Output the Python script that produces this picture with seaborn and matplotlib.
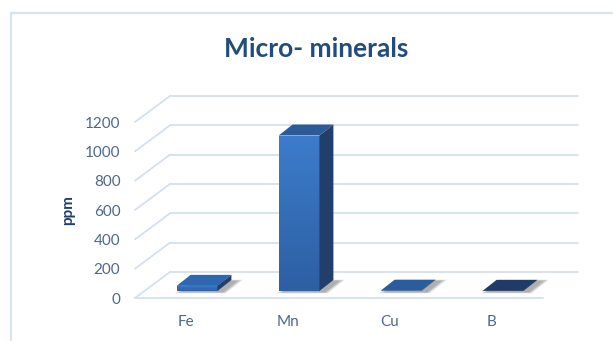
import numpy as np
import pandas as pd
import matplotlib
matplotlib.use("Agg")
import matplotlib.pyplot as plt
import matplotlib.transforms as mtransforms
from matplotlib.patches import Polygon
from matplotlib.colors import LinearSegmentedColormap
import seaborn as sns

# Data
minerals = ["Fe", "Mn", "Cu", "B"]
ppm = [35, 1060, 2, 1]
y_ticks = [0, 200, 400, 600, 800, 1000, 1200]

sns.set_style("white")
plt.rcParams["font.family"] = ["Lato", "DejaVu Sans"]

W, H, DPI = 613, 341, 100
fig = plt.figure(figsize=(W / DPI, H / DPI), dpi=DPI)

# front plane of the 3-D box (pixels, origin bottom-left)
X0, X1 = 135, 543
Y0, Y1 = H - 298, H - 122
ax = fig.add_axes([X0 / W, Y0 / H, (X1 - X0) / W, (Y1 - Y0) / H])

df = pd.DataFrame({"mineral": minerals, "ppm": ppm})
sns.barplot(data=df, x="mineral", y="ppm", width=0.4, color="#2E62A6",
            saturation=1, ax=ax, zorder=5)
ax.set_xlim(-0.5, 3.5)
ax.set_ylim(0, 1200)
ax.set_yticks(y_ticks)
ax.set_xlabel("")
ax.set_ylabel("")
ax.grid(False)
for s in ax.spines.values():
    s.set_visible(False)
ax.patch.set_alpha(0)
ax.tick_params(axis="y", length=0, pad=10.5, labelsize=11, labelcolor="#4E6790")
ax.tick_params(axis="x", length=0, pad=12, labelsize=11, labelcolor="#4E6790")

GRID = "#D5DFEF"
WALL = (35, 26)      # depth of the back wall
FRONT = (11, 7)      # front face of the bars sits behind the front plane
DEPTH = (14, 11)     # bar depth


def to_px(x, y):
    return ax.transData.transform((x, y))


def px_poly(points, **kw):
    pts = [(px / W, py / H) for px, py in points]
    poly = Polygon(pts, closed=True, transform=fig.transFigure,
                   clip_on=False, **kw)
    ax.add_artist(poly)
    return poly


def px_line(xs, ys, **kw):
    ax.add_artist(plt.Line2D([x / W for x in xs], [y / H for y in ys],
                             transform=fig.transFigure, clip_on=False, **kw))


# gridlines on the back wall plus the diagonals on the side wall
for v in y_ticks:
    fx, fy = to_px(-0.5, v)
    bx, by = fx + WALL[0], fy + WALL[1]
    px_line([fx, bx], [fy, by], color=GRID, lw=1.3, zorder=0.5)
    px_line([bx, bx + (X1 - X0)], [by, by], color=GRID, lw=1.3, zorder=0.5)
fx, fy = to_px(-0.5, 0)
px_line([fx, fx + (X1 - X0)], [fy, fy], color=GRID, lw=1.3, zorder=0.5)

# chart frame
px_line([11, 11], [0, H - 13], color="#D9E3F2", lw=1.6, zorder=0.5)
px_line([11, W], [H - 13, H - 13], color="#D9E3F2", lw=1.6, zorder=0.5)

shift = mtransforms.ScaledTranslation(FRONT[0] / DPI, FRONT[1] / DPI,
                                      fig.dpi_scale_trans)
front_cmap = LinearSegmentedColormap.from_list("front", ["#2D5FA2", "#3C7CCB"])
top_colors = ["#2F66B0", "#2C5B98", "#2B5C9C", "#1F3B66"]
side_color = "#223F6B"

for i, p in enumerate(ax.patches[:len(minerals)]):
    x0 = p.get_x()
    x1 = x0 + p.get_width()
    h = p.get_height()
    (ax0, ay0) = to_px(x0, 0) + np.array(FRONT)
    (ax1, ay1) = to_px(x1, h) + np.array(FRONT)

    # soft floor shadow
    foot = np.array([(ax0, ay0), (ax1, ay0),
                     (ax1 + DEPTH[0], ay0 + DEPTH[1]),
                     (ax0 + DEPTH[0], ay0 + DEPTH[1])])
    cx, cy = foot.mean(axis=0)
    for k in range(5):
        grow = 1.0 + 0.05 * (5 - k)
        pts = (foot - (cx, cy)) * grow + (cx + 5, cy - 1)
        px_poly(pts, facecolor="black", edgecolor="none", alpha=0.07, zorder=1)

    # front face with vertical gradient
    p.set_transform(ax.transData + shift)
    p.set_clip_on(False)
    p.set_edgecolor("none")
    p.set_zorder(5)
    if h > 0:
        im = ax.imshow(np.linspace(0, 1, 64).reshape(-1, 1),
                       extent=[x0, x1, 0, h], origin="lower", aspect="auto",
                       cmap=front_cmap, transform=ax.transData + shift,
                       zorder=5.5, interpolation="bilinear")
        im.set_clip_path(p)

    # top and side faces
    px_poly([(ax0, ay1), (ax1, ay1), (ax1 + DEPTH[0], ay1 + DEPTH[1]),
             (ax0 + DEPTH[0], ay1 + DEPTH[1])],
            facecolor=top_colors[i], edgecolor="none", zorder=6)
    px_poly([(ax1, ay0), (ax1 + DEPTH[0], ay0 + DEPTH[1]),
             (ax1 + DEPTH[0], ay1 + DEPTH[1]), (ax1, ay1)],
            facecolor=side_color, edgecolor="none", zorder=6)

ax.set_xlim(-0.5, 3.5)
ax.set_ylim(0, 1200)

fig.text(316 / W, 1 - 49 / H, "Micro- minerals", ha="center", va="center",
         fontsize=19, fontweight="bold", color="#214C7E")
fig.text(68 / W, 1 - 210 / H, "ppm", ha="center", va="center", rotation=90,
         fontsize=11, fontweight="bold", color="#1F3F70")

fig.savefig("out.png", dpi=DPI, facecolor="white")
